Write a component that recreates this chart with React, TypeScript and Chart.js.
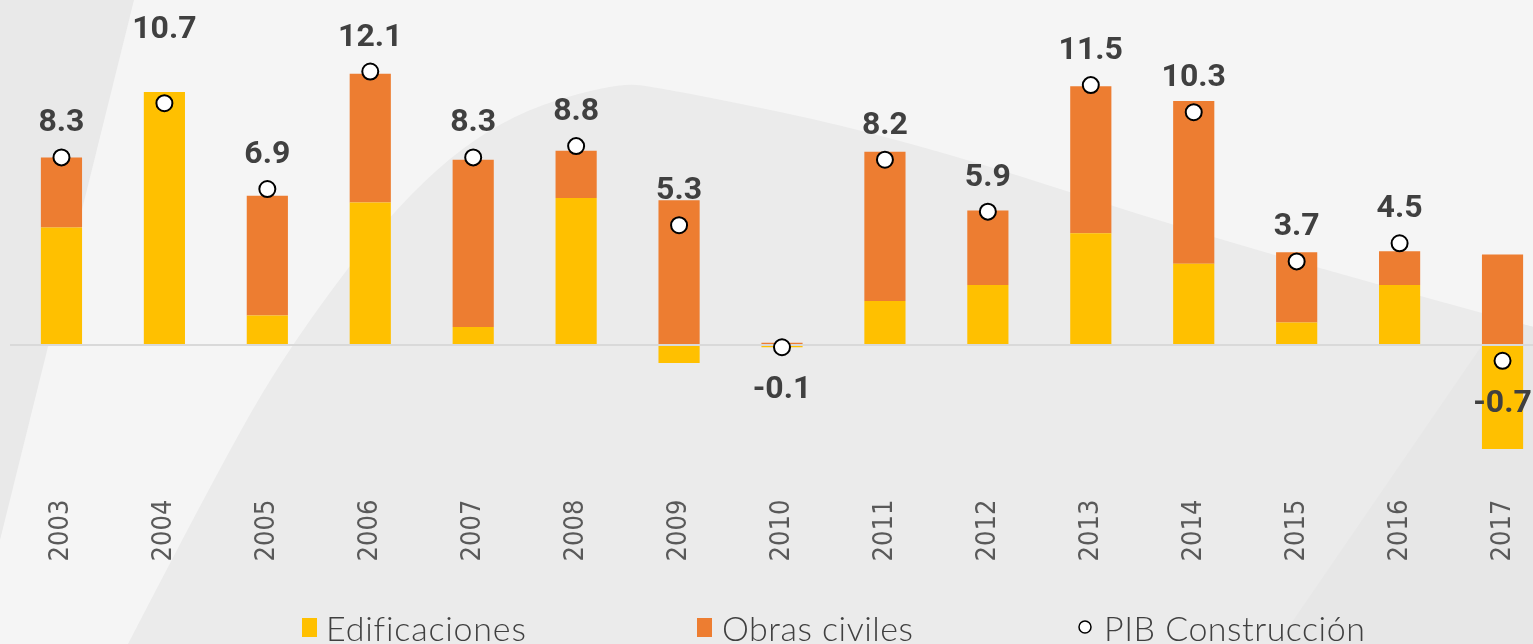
import React, { useEffect, useRef } from "react";
import { Chart, registerables } from "chart.js";

Chart.register(...registerables);

const years = ["2003", "2004", "2005", "2006", "2007", "2008", "2009", "2010", "2011", "2012", "2013", "2014", "2015", "2016", "2017"];
const edificaciones = [5.2, 11.2, 1.3, 6.3, 0.8, 6.5, -0.8, -0.1, 1.95, 2.65, 4.95, 3.6, 1.0, 2.65, -4.6];
const obrasCiviles = [3.1, 0, 5.3, 5.7, 7.4, 2.1, 6.4, 0.1, 6.6, 3.3, 6.5, 7.2, 3.1, 1.5, 4.0];
const pibConstruccion = [8.3, 10.7, 6.9, 12.1, 8.3, 8.8, 5.3, -0.1, 8.2, 5.9, 11.5, 10.3, 3.7, 4.5, -0.7];
const legendNames = ["Edificaciones", "Obras civiles", "PIB Construcción"];

const YELLOW = "#FFC000";
const ORANGE = "#ED7D31";
const CANVAS_W = 1564;
const CANVAS_H = 644;
// extra vertical nudge for specific value labels (style only)
const labelNudge: Record<number, number> = { 1: -39 };

const backgroundPlugin = {
  id: "bgShapes",
  beforeDraw(chart: any) {
    const ctx = chart.ctx as CanvasRenderingContext2D;
    const W = chart.width, H = chart.height;
    ctx.save();
    ctx.fillStyle = "#f5f5f5";
    ctx.fillRect(0, 0, W, H);
    ctx.fillStyle = "#e9e9e9";
    ctx.beginPath();
    ctx.moveTo(0, 0);
    ctx.lineTo(134, 0);
    ctx.lineTo(0, 540);
    ctx.closePath();
    ctx.fill();
    const pts = [[128, 644], [218, 470], [290, 345], [400, 200], [500, 118], [613, 83], [660, 87], [900, 137], [1217, 240], [1533, 327], [1570, 337]];
    const path = new Path2D();
    path.moveTo(pts[0][0], pts[0][1]);
    for (let i = 1; i < pts.length - 1; i++) {
      const mx = (pts[i][0] + pts[i + 1][0]) / 2;
      const my = (pts[i][1] + pts[i + 1][1]) / 2;
      path.quadraticCurveTo(pts[i][0], pts[i][1], mx, my);
    }
    path.lineTo(pts[pts.length - 1][0], pts[pts.length - 1][1]);
    path.lineTo(1570, 644);
    path.closePath();
    ctx.fillStyle = "#ebebeb";
    ctx.fill(path);
    ctx.clip(path);
    ctx.fillStyle = "#e7e7e7";
    ctx.beginPath();
    ctx.moveTo(1277, 644);
    ctx.lineTo(1570, 217);
    ctx.lineTo(1570, 644);
    ctx.closePath();
    ctx.fill();
    ctx.restore();
  },
};

const valueLabelPlugin = {
  id: "valueLabels",
  afterDatasetsDraw(chart: any) {
    const ctx = chart.ctx as CanvasRenderingContext2D;
    const meta = chart.getDatasetMeta(2);
    ctx.save();
    ctx.font = "bold 32px Roboto";
    ctx.fillStyle = "#404040";
    ctx.textAlign = "center";
    meta.data.forEach((pt: any, i: number) => {
      const v = pibConstruccion[i];
      const nudge = labelNudge[i] || 0;
      if (v >= 0) {
        ctx.textBaseline = "alphabetic";
        ctx.fillText(v.toFixed(1), pt.x, pt.y - 26 + nudge);
      } else {
        ctx.textBaseline = "top";
        ctx.fillText(v.toFixed(1), pt.x, pt.y + 27 + nudge);
      }
    });
    ctx.restore();
  },
};

const legendPlugin = {
  id: "customLegend",
  afterDraw(chart: any) {
    const ctx = chart.ctx as CanvasRenderingContext2D;
    ctx.save();
    const baseY = 641;
    ctx.fillStyle = YELLOW;
    ctx.fillRect(302, 618, 15, 19);
    ctx.fillStyle = ORANGE;
    ctx.fillRect(697, 618, 15, 19);
    ctx.beginPath();
    ctx.arc(1085, 627, 6, 0, Math.PI * 2);
    ctx.fillStyle = "#ffffff";
    ctx.fill();
    ctx.lineWidth = 1.5;
    ctx.strokeStyle = "#000000";
    ctx.stroke();
    ctx.font = "300 34px Lato";
    (ctx as any).letterSpacing = "0.8px";
    ctx.fillStyle = "#404040";
    ctx.textAlign = "left";
    ctx.textBaseline = "alphabetic";
    ctx.fillText(legendNames[0], 326, baseY);
    (ctx as any).letterSpacing = "0.5px";
    ctx.fillText(legendNames[1], 722, baseY);
    ctx.fillText(legendNames[2], 1104, baseY);
    ctx.restore();
  },
};

export default function App() {
  const ref = useRef<HTMLCanvasElement>(null);
  useEffect(() => {
    if (!ref.current) return;
    const chart = new Chart(ref.current, {
      type: "bar",
      data: {
        labels: years,
        datasets: [
          { type: "bar", label: legendNames[0], data: edificaciones, backgroundColor: YELLOW, stack: "s", order: 2, barPercentage: 0.4, categoryPercentage: 1 },
          { type: "bar", label: legendNames[1], data: obrasCiviles, backgroundColor: ORANGE, stack: "s", order: 2, barPercentage: 0.4, categoryPercentage: 1 },
          {
            type: "line", label: legendNames[2], data: pibConstruccion, yAxisID: "y2", showLine: false, order: 0,
            pointRadius: 8, pointBackgroundColor: "#ffffff", pointBorderColor: "#000000", pointBorderWidth: 2, pointHoverRadius: 8,
          },
        ],
      },
      options: {
        responsive: false,
        animation: false,
        layout: { padding: { left: 9.5, right: 0, top: 28.6, bottom: 0 } },
        plugins: { legend: { display: false }, tooltip: { enabled: false } },
        scales: {
          x: {
            stacked: true,
            offset: true,
            grid: { display: false, drawTicks: false },
            border: { display: false },
            ticks: { minRotation: 90, maxRotation: 90, padding: 19, color: "#595959", font: { family: "'Liberation Sans Narrow', 'DejaVu Sans Condensed', Roboto", size: 27 } },
            afterFit: (scale: any) => { scale.height = 163.4; },
          },
          y: {
            stacked: true,
            min: -6,
            max: 14,
            display: true,
            ticks: { display: false },
            border: { display: false },
            grid: {
              drawTicks: false,
              color: (c: any) => (c.tick && c.tick.value === 0 ? "#d9d9d9" : "rgba(0,0,0,0)"),
              lineWidth: 2,
            },
            afterFit: (scale: any) => { scale.width = 0; },
          },
          y2: { display: false, min: -6, max: 14 },
        },
      },
      plugins: [backgroundPlugin, valueLabelPlugin, legendPlugin],
    });
    return () => chart.destroy();
  }, []);
  return (
    <div style={{ position: "fixed", left: 0, top: 0, width: 1533, height: 644, overflow: "hidden" }}>
      <canvas ref={ref} width={CANVAS_W} height={CANVAS_H} style={{ display: "block", width: CANVAS_W, height: CANVAS_H }} />
    </div>
  );
}
